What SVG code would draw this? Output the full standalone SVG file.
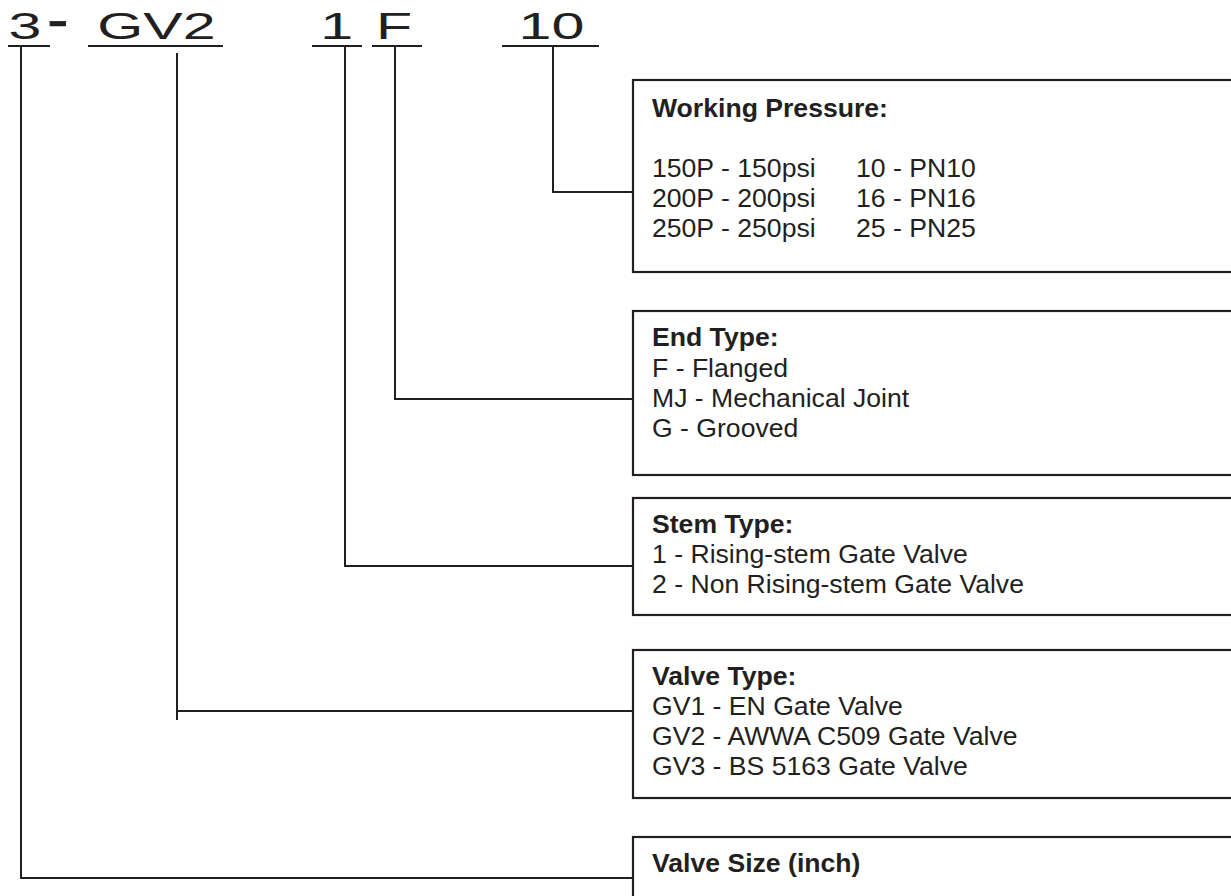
<svg xmlns="http://www.w3.org/2000/svg" width="1231" height="896" viewBox="0 0 1231 896">
<style>
  .bg { fill: #ffffff; }
  .box { fill: #ffffff; stroke: #231f20; stroke-width: 2.2; }
  .ln { fill: none; stroke: #231f20; stroke-width: 2; }
  .code { font-family: "Liberation Sans", Arial, sans-serif; font-size: 37px; fill: #231f20; }
  .t { font-family: "Liberation Sans", Arial, sans-serif; font-size: 26.6px; fill: #231f20; }
  .h { font-family: "Liberation Sans", Arial, sans-serif; font-size: 26.6px; font-weight: bold; fill: #231f20; }
</style>
<rect class="bg" x="0" y="0" width="1231" height="896"/>

<g id="code">
  <text class="code" transform="translate(8.5,39) scale(1.6,1)">3<tspan font-weight="bold" font-size="38" dx="4" dy="-5" stroke="#231f20" stroke-width="0.6">-</tspan></text>
  <text class="code" transform="translate(97.2,39) scale(1.6,1)">GV2</text>
  <text class="code" transform="translate(320.2,39) scale(1.6,1)">1</text>
  <text class="code" transform="translate(376.1,39) scale(1.6,1)">F</text>
  <text class="code" transform="translate(518.5,39) scale(1.6,1)">10</text>
  <line class="ln" x1="8" y1="46" x2="50" y2="46"/>
  <line class="ln" x1="88" y1="46" x2="223" y2="46"/>
  <line class="ln" x1="312" y1="46" x2="362" y2="46"/>
  <line class="ln" x1="372" y1="46" x2="422" y2="46"/>
  <line class="ln" x1="502" y1="46" x2="599" y2="46"/>
</g>

<g id="connectors">
  <polyline class="ln" points="553,46 553,192 633,192"/>
  <polyline class="ln" points="395,46 395,399 633,399"/>
  <polyline class="ln" points="345,46 345,566 633,566"/>
  <line class="ln" x1="177" y1="53" x2="177" y2="720"/>
  <line class="ln" x1="177" y1="711" x2="633" y2="711"/>
  <polyline class="ln" points="21,46 21,878 633,878"/>
</g>

<g id="working-pressure">
  <rect class="box" x="633" y="80" width="700" height="192"/>
  <text class="h" x="652" y="117">Working Pressure:</text>
  <text class="t" x="652" y="177">150P - 150psi</text>
  <text class="t" x="652" y="207">200P - 200psi</text>
  <text class="t" x="652" y="237">250P - 250psi</text>
  <text class="t" x="856" y="177">10 - PN10</text>
  <text class="t" x="856" y="207">16 - PN16</text>
  <text class="t" x="856" y="237">25 - PN25</text>
</g>

<g id="end-type">
  <rect class="box" x="633" y="311" width="700" height="164"/>
  <text class="h" x="652" y="346">End Type:</text>
  <text class="t" x="652" y="377">F - Flanged</text>
  <text class="t" x="652" y="407">MJ - Mechanical Joint</text>
  <text class="t" x="652" y="437">G - Grooved</text>
</g>

<g id="stem-type">
  <rect class="box" x="633" y="498" width="700" height="117"/>
  <text class="h" x="652" y="533">Stem Type:</text>
  <text class="t" x="652" y="563">1 - Rising-stem Gate Valve</text>
  <text class="t" x="652" y="593">2 - Non Rising-stem Gate Valve</text>
</g>

<g id="valve-type">
  <rect class="box" x="633" y="650" width="700" height="148"/>
  <text class="h" x="652" y="685">Valve Type:</text>
  <text class="t" x="652" y="715">GV1 - EN Gate Valve</text>
  <text class="t" x="652" y="745">GV2 - AWWA C509 Gate Valve</text>
  <text class="t" x="652" y="775">GV3 - BS 5163 Gate Valve</text>
</g>

<g id="valve-size">
  <rect class="box" x="633" y="837" width="700" height="120"/>
  <text class="h" x="652" y="872">Valve Size (inch)</text>
</g>
</svg>
